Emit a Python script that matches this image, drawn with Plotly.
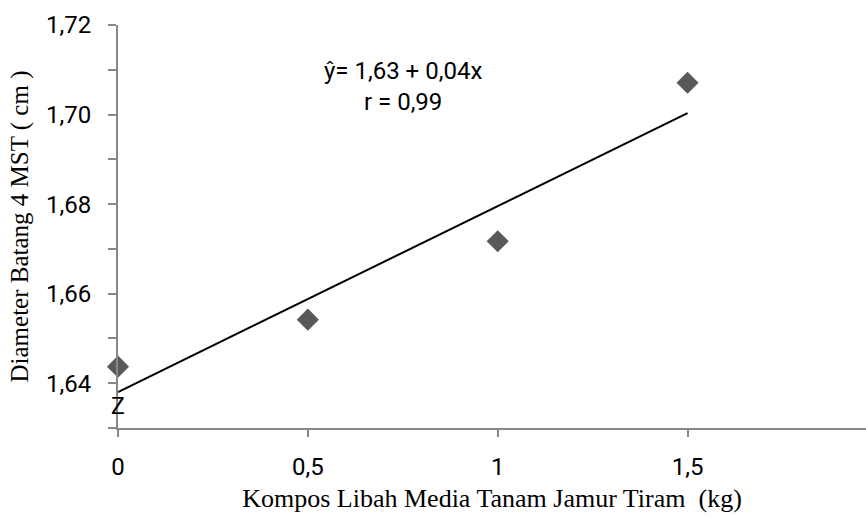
import numpy as np
import plotly.graph_objects as go

x_vals = [0, 0.5, 1, 1.5]
y_vals = [1.6437, 1.6542, 1.6717, 1.7071]
y_tickvals = [1.63, 1.64, 1.65, 1.66, 1.67, 1.68, 1.69, 1.70, 1.71, 1.72]
y_ticktext = ["", "1,64", "", "1,66", "", "1,68", "", "1,70", "", "1,72"]
x_tickvals = [0, 0.5, 1, 1.5]
x_ticktext = ["0", "0,5", "1", "1,5"]

slope, intercept = np.polyfit(x_vals, y_vals, 1)
trend_x = [0, 1.5]
trend_y = [intercept + slope * v for v in trend_x]

fig = go.Figure()
fig.add_trace(go.Scatter(x=trend_x, y=trend_y, mode="lines",
                         line=dict(color="black", width=2), showlegend=False, hoverinfo="skip"))
fig.add_trace(go.Scatter(x=x_vals, y=y_vals, mode="markers",
                         marker=dict(symbol="diamond", size=17, color="#595959"),
                         showlegend=False, cliponaxis=False))

fig.add_annotation(x=0.75, y=1.7063, xref="x", yref="y", text="ŷ= 1,63 + 0,04x<br>r = 0,99",
                   showarrow=False, font=dict(family="Roboto", size=24, color="black"),
                   align="center")
fig.add_annotation(x=0, y=1.6347, xref="x", yref="y", text="Z", showarrow=False,
                   font=dict(family="Roboto", size=23, color="black"))

axis_common = dict(showline=True, linecolor="#888888", linewidth=2, ticks="outside",
                   tickcolor="#888888", tickwidth=2, showgrid=False, zeroline=False)

fig.update_xaxes(range=[0, 1.97], tickvals=x_tickvals, ticktext=x_ticktext, ticklen=7,
                 ticklabelstandoff=9,
                 tickfont=dict(family="Roboto", size=24, color="black"),
                 title=dict(text="Kompos Libah Media Tanam Jamur Tiram  (kg)",
                            font=dict(family="Liberation Serif", size=26, color="black"),
                            standoff=9),
                 **axis_common)
fig.update_yaxes(range=[1.63, 1.72], tickvals=y_tickvals, ticktext=y_ticktext, ticklen=8,
                 ticklabelstandoff=12,
                 tickfont=dict(family="Roboto", size=24, color="black"),
                 title=dict(text="Diameter Batang 4 MST ( cm )",
                            font=dict(family="Liberation Serif", size=25, color="black"),
                            standoff=10),
                 **axis_common)

fig.update_layout(width=866, height=518, margin=dict(l=118, r=0, t=25, b=90),
                  plot_bgcolor="white", paper_bgcolor="white")

fig.write_html("out.html")
